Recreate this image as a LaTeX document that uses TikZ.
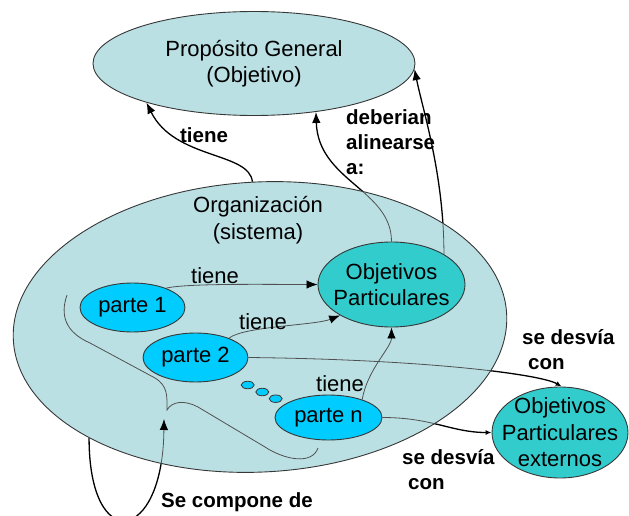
\documentclass[tikz,border=0pt]{standalone}
\usepackage{fontspec}
\setmainfont{Liberation Sans}
\usetikzlibrary{shapes.geometric,arrows.meta}
\pgfdeclarelayer{propl}
\pgfdeclarelayer{conn}
\pgfdeclarelayer{orgl}
\pgfsetlayers{propl,conn,orgl,main}
\definecolor{lightfill}{RGB}{186,224,228}
\definecolor{turq}{RGB}{51,204,204}
\definecolor{sky}{RGB}{0,204,255}
\definecolor{edgecol}{RGB}{55,55,55}
\definecolor{thincol}{RGB}{80,80,80}
\tikzset{
  ell/.style={ellipse, draw=edgecol, line width=0.9pt, inner sep=0pt},
  bigell/.style={ell, fill=lightfill},
  objell/.style={ell, fill=turq},
  partell/.style={ell, fill=sky},
  dotell/.style={ellipse, draw=edgecol, line width=0.8pt, fill=sky, minimum width=13pt, minimum height=7.5pt, inner sep=0pt},
  txt/.style={font=\fontsize{22}{26.5}\selectfont, inner sep=0pt, align=center},
  btxt/.style={font=\bfseries\fontsize{20.5}{25}\selectfont, inner sep=0pt, align=left},
  outerline/.style={draw=black, line width=1.3pt},
  innerline/.style={draw=thincol, line width=0.8pt},
  bigtip/.style={-{Latex[length=11pt,width=8.5pt,color=black]}},
  smalltip/.style={-{Latex[length=6pt,width=5pt,color=black]}},
}
\begin{document}
\begin{tikzpicture}[x=1pt,y=-1pt]
\useasboundingbox (0,0) rectangle (629,516);

% main ellipses
\begin{pgfonlayer}{propl}
\node[bigell, minimum width=322pt, minimum height=104pt,
      label={[txt]center:Propósito General\\(Objetivo)}] (prop) at (254,63.5) {};
\end{pgfonlayer}
\begin{pgfonlayer}{orgl}
\node[bigell, minimum width=494pt, minimum height=290pt, rotate=3] (org) at (260,327) {};
\end{pgfonlayer}
\node[txt] (orgtxt) at (258,220) {Organización\\(sistema)};

\node[objell, minimum width=147pt, minimum height=85pt,
      label={[txt]center:Objetivos\\Particulares}] (objp) at (391.5,284.5) {};
\node[partell, minimum width=105pt, minimum height=49pt,
      label={[txt]center:parte 1}] (p1) at (132.5,307.5) {};
\node[partell, minimum width=105pt, minimum height=49pt,
      label={[txt]center:parte 2}] (p2) at (195.5,357.5) {};
\node[partell, minimum width=107pt, minimum height=45pt,
      label={[txt]center:parte n}] (pn) at (328.5,417.5) {};
\node[objell, minimum width=136pt, minimum height=91pt,
      label={[txt]center:Objetivos\\Particulares\\externos}] (ext) at (560,432.5) {};
\node[dotell] (d1) at (247.7,385) {};
\node[dotell] (d2) at (262.3,392) {};
\node[dotell] (d3) at (275.7,398.7) {};

\coordinate (bracetip) at (164,419);

% connectors: thick black parts (outside the organisation)
\begin{pgfonlayer}{conn}
\draw[outerline,bigtip] (org.90) .. controls +(-3,-30) and +(28,57) .. (prop.200);
\draw[outerline,bigtip] (objp.90) .. controls +(0,-52) and +(2,69) .. (prop.-38);
\draw[outerline,bigtip] (objp.30) .. controls +(0,-80) and +(8,40) .. (prop.-2);
\draw[outerline,smalltip] (p2.0) .. controls +(180,2) and +(-20,-12) .. (ext.88);
\draw[outerline,smalltip] (pn.0) .. controls +(50,0) and +(-40,0) .. (ext.180);
\draw[outerline,bigtip] (org.210) .. controls +(0,117) and +(-1,125) .. (bracetip);
\end{pgfonlayer}

% connectors: thin grey parts (inside the organisation)
\begin{scope}
\clip[shift={(org.center)}, rotate=3] (0,0) ellipse [x radius=246.5pt, y radius=144.5pt];
\draw[innerline,bigtip] (objp.90) .. controls +(0,-52) and +(2,69) .. (prop.-38);
\draw[innerline,bigtip] (objp.30) .. controls +(0,-80) and +(8,40) .. (prop.-2);
\draw[innerline,smalltip] (p2.0) .. controls +(180,2) and +(-20,-12) .. (ext.88);
\draw[innerline,smalltip] (pn.0) .. controls +(50,0) and +(-40,0) .. (ext.180);
\draw[innerline,bigtip] (org.210) .. controls +(0,117) and +(-1,125) .. (bracetip);
\draw[innerline,bigtip] (p1.30) .. controls +(20,-5) and +(-50,0) .. (objp.180);
\draw[innerline,bigtip] (p2.30) .. controls +(15,-12) and +(-25,10) .. (objp.211);
\draw[innerline,bigtip] (pn.28) .. controls +(5,-30) and +(0,20) .. (objp.-90);
\draw[innerline] (67,295) .. controls (60,315) and (65,332) .. (90,343) -- (155,378)
   .. controls (168,386) and (167,396) .. (167,410)
   .. controls (172,401) and (185,400) .. (198,407) -- (265,447)
   .. controls (285,460) and (312,465) .. (318,448);
\end{scope}

% labels
\node[btxt] (l1) at (204,135) {tiene};
\node[btxt, anchor=west] (l2) at (346,142) {deberian\\alinearse\\a:};
\node[txt] (l3) at (215,276) {tiene};
\node[txt] (l4) at (263,322) {tiene};
\node[txt] (l5) at (340,384) {tiene};
\node[btxt, anchor=west] (l6) at (522,350) {se desvía\\\hspace*{6pt}con};
\node[btxt, anchor=west] (l7) at (402,470) {se desvía\\\hspace*{6pt}con};
\node[btxt] (l8) at (237,502) {Se compone de};
\end{tikzpicture}
\end{document}
